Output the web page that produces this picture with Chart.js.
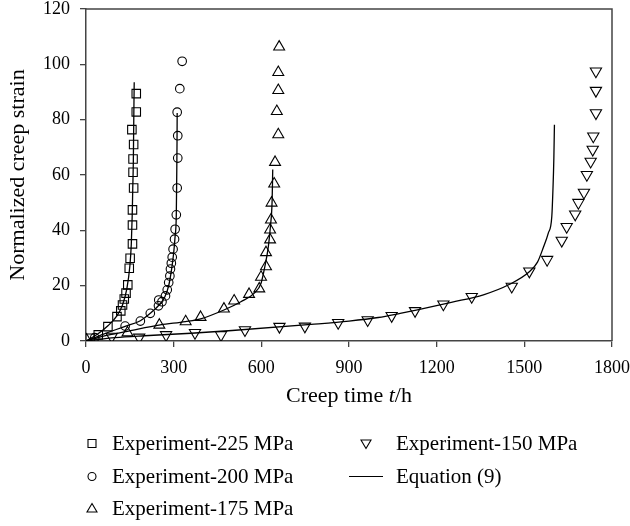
<!DOCTYPE html>
<html>
<head>
<meta charset="utf-8">
<script src="https://cdn.jsdelivr.net/npm/chart.js@4.4.1/dist/chart.umd.min.js"></script>
<style>
  html, body { margin: 0; padding: 0; background: #fff; }
</style>
</head>
<body>
<canvas id="chartCreep" width="630" height="526"></canvas>
<script>
const SERIF = '"Liberation Serif", "Times New Roman", serif';
Chart.defaults.font.family = SERIF;
Chart.defaults.color = '#000';

// experiment 225 MPa
const t225 = [14, 42, 75, 106, 119, 125, 131, 137, 143, 148, 151, 159, 159, 159, 163, 161, 161, 163, 157, 172, 172];
const s225 = [1.0, 2.2, 5.2, 8.8, 10.9, 13.0, 15.2, 17.3, 20.3, 26.3, 29.9, 35.1, 41.9, 47.4, 55.3, 61.0, 65.8, 71.0, 76.4, 82.8, 89.4];
// experiment 200 MPa
const t200 = [30, 134, 186, 220, 248, 249, 260, 272, 278, 283, 287, 289, 292, 295, 298, 303, 305, 309, 312, 314, 314, 312, 321, 329];
const s200 = [1.2, 5.4, 7.2, 10.0, 12.7, 14.8, 14.2, 16.3, 18.5, 21.1, 23.5, 26.0, 28.1, 30.3, 33.2, 36.8, 40.4, 45.6, 55.3, 66.1, 74.2, 82.7, 91.2, 101.1];
// experiment 175 MPa
const t175 = [2, 142, 251, 341, 392, 472, 507, 558, 593, 599, 616, 616, 630, 630, 633, 635, 644, 647, 658, 653, 658, 658, 661];
const s175 = [0.4, 3.0, 5.8, 7.0, 8.6, 11.6, 14.5, 16.9, 18.9, 23.1, 26.9, 32.0, 36.6, 40.2, 43.8, 49.9, 56.8, 64.6, 74.6, 83.0, 90.6, 97.1, 106.3];
// experiment 150 MPa
const t150 = [88, 182, 274, 373, 462, 544, 662, 749, 863, 964, 1046, 1126, 1223, 1320, 1457, 1517, 1578, 1628, 1645, 1674, 1685, 1704, 1714, 1727, 1734, 1736, 1745, 1745, 1745];
const s150 = [1.6, 1.3, 2.2, 3.0, 2.2, 4.0, 5.2, 5.3, 6.6, 7.6, 9.1, 10.9, 13.3, 16.0, 19.7, 25.2, 29.4, 36.3, 41.3, 45.8, 50.0, 53.7, 60.1, 64.9, 69.2, 74.0, 82.4, 90.5, 97.5];

// Equation (9) curves
const eqT225 = [0, 40, 75, 105, 125, 140, 150, 155, 158, 160, 162, 163, 164, 165];
const eqS225 = [0, 2.5, 5.5, 9, 13, 19, 27, 35, 45, 55, 65, 75, 85, 93.5];
const eqT200 = [0, 60, 134, 186, 220, 250, 270, 283, 293, 300, 305, 309, 310.5, 311.5, 312];
const eqS200 = [0, 2.5, 5.3, 7.3, 10, 13, 16, 20, 26, 31.8, 38, 45.6, 60, 72, 82.4];
const eqT175 = [0, 60, 142, 254, 340, 392, 472, 530, 576, 599, 612, 624, 631, 637, 639];
const eqS175 = [0, 1.8, 3.5, 5.8, 7.0, 8.0, 11.2, 14.2, 17.3, 20.9, 26.9, 34.1, 41.4, 51, 62];
const eqT150 = [0, 100, 200, 360, 500, 770, 900, 1000, 1075, 1130, 1250, 1360, 1450, 1517, 1545, 1565, 1582, 1594, 1598, 1601, 1603];
const eqS150 = [0, 1.2, 1.9, 2.8, 3.8, 6.0, 7.2, 8.5, 10, 11.2, 14, 16.7, 20.5, 25, 28.5, 33.8, 39, 45, 55, 66, 78.2];

const xTicks = [0, 300, 600, 900, 1200, 1500, 1800];
const yTicks = [0, 20, 40, 60, 80, 100, 120];

const pts = (ts, ss) => ts.map((t, i) => ({ x: t, y: ss[i] }));

function expSet(label, ts, ss, style, radius, rotation = 0) {
    return {
        label,
        data: pts(ts, ss),
        showLine: false,
        pointStyle: style,
        pointRadius: radius,
        pointHoverRadius: radius,
        pointRotation: rotation,
        pointBorderColor: '#000',
        pointBackgroundColor: 'rgba(255,255,255,0)',
        pointBorderWidth: 1.1,
    };
}

function eqSet(ts, ss) {
    return {
        label: 'Equation (9)',
        data: pts(ts, ss),
        showLine: true,
        pointRadius: 0,
        borderColor: '#000',
        borderWidth: 1.3,
        cubicInterpolationMode: 'monotone',
        fill: false,
    };
}

// marker shapes for the legend
function marker(ctx, kind, x, y) {
    ctx.beginPath();
    if (kind === 'rect') {
        ctx.rect(x - 4, y - 4, 8, 8);
    } else if (kind === 'circle') {
        ctx.arc(x, y, 4, 0, Math.PI * 2);
    } else if (kind === 'triangle') {
        ctx.moveTo(x, y - 5);
        ctx.lineTo(x + 5, y + 3.5);
        ctx.lineTo(x - 5, y + 3.5);
        ctx.closePath();
    } else if (kind === 'invtriangle') {
        ctx.moveTo(x, y + 5);
        ctx.lineTo(x + 5, y - 3.5);
        ctx.lineTo(x - 5, y - 3.5);
        ctx.closePath();
    } else {
        ctx.moveTo(x - 17, y);
        ctx.lineTo(x + 17, y);
    }
    ctx.stroke();
}

const legendItems = [
    { kind: 'rect', text: 'Experiment-225 MPa', mx: 92, tx: 112, y: 450 },
    { kind: 'circle', text: 'Experiment-200 MPa', mx: 92, tx: 112, y: 483 },
    { kind: 'triangle', text: 'Experiment-175 MPa', mx: 92, tx: 112, y: 515 },
    { kind: 'invtriangle', text: 'Experiment-150 MPa', mx: 366, tx: 396, y: 450 },
    { kind: 'line', text: 'Equation (9)', mx: 366, tx: 396, y: 483 },
];

const decorations = {
    id: 'decorations',
    afterDatasetsDraw(chart) {
        const { ctx, chartArea: a } = chart;
        ctx.save();
        ctx.strokeStyle = '#444';
        ctx.lineWidth = 1.5;
        ctx.beginPath();
        ctx.moveTo(a.left, a.top);
        ctx.lineTo(a.right, a.top);
        ctx.lineTo(a.right, a.bottom);
        ctx.stroke();
        ctx.restore();
    },
    afterDraw(chart) {
        const { ctx, chartArea: a } = chart;
        ctx.save();
        ctx.fillStyle = '#000';
        ctx.textBaseline = 'alphabetic';

        // x title with italic t
        const up = `22px ${SERIF}`;
        const it = `italic 22px ${SERIF}`;
        const parts = [['Creep time ', up], ['t', it], ['/h', up]];
        let w = 0;
        parts.forEach(([s, f]) => { ctx.font = f; w += ctx.measureText(s).width; });
        let x = (a.left + a.right) / 2 - w / 2;
        parts.forEach(([s, f]) => {
            ctx.font = f;
            ctx.fillText(s, x, 401.5);
            x += ctx.measureText(s).width;
        });

        // y title
        ctx.save();
        ctx.translate(24, (a.top + a.bottom) / 2);
        ctx.rotate(-Math.PI / 2);
        ctx.font = up;
        ctx.textAlign = 'center';
        ctx.fillText('Normalized creep strain', 0, 0);
        ctx.restore();

        // legend
        ctx.font = `21px ${SERIF}`;
        ctx.strokeStyle = '#000';
        ctx.lineWidth = 1.1;
        legendItems.forEach(item => {
            marker(ctx, item.kind, item.mx, item.y - 6.5);
            ctx.fillText(item.text, item.tx, item.y);
        });
        ctx.restore();
    },
};

const axisGrid = { drawOnChartArea: false, drawTicks: true, tickLength: 6, color: '#444', lineWidth: 1.3 };
const axisBorder = { color: '#444', width: 1.5 };

new Chart(document.getElementById('chartCreep'), {
    type: 'scatter',
    data: {
        datasets: [
            expSet('Experiment-225 MPa', t225, s225, 'rect', 6),
            expSet('Experiment-200 MPa', t200, s200, 'circle', 4.3),
            expSet('Experiment-175 MPa', t175, s175, 'triangle', 6.3),
            expSet('Experiment-150 MPa', t150, s150, 'triangle', 6.5, 180),
            eqSet(eqT225, eqS225),
            eqSet(eqT200, eqS200),
            eqSet(eqT175, eqS175),
            eqSet(eqT150, eqS150),
        ],
    },
    options: {
        responsive: false,
        animation: false,
        devicePixelRatio: 1,
        layout: { padding: { left: 0, right: 18, top: 9, bottom: 0 } },
        plugins: {
            legend: { display: false },
            tooltip: { enabled: false },
        },
        scales: {
            x: {
                type: 'linear',
                min: 0,
                max: 1800,
                afterBuildTicks: s => { s.ticks = xTicks.map(v => ({ value: v })); },
                afterFit: s => { s.height = 185; s.paddingLeft = 0; s.paddingRight = 0; },
                ticks: { font: { size: 18 }, padding: 10, maxRotation: 0, callback: v => String(v) },
                grid: axisGrid,
                border: axisBorder,
            },
            y: {
                min: 0,
                max: 120,
                afterBuildTicks: s => { s.ticks = yTicks.map(v => ({ value: v })); },
                afterFit: s => { s.width = 86; s.paddingTop = 0; s.paddingBottom = 0; },
                ticks: { font: { size: 18, lineHeight: 1 }, padding: 10, callback: v => String(v) },
                grid: axisGrid,
                border: axisBorder,
            },
        },
    },
    plugins: [decorations],
});
</script>
</body>
</html>
